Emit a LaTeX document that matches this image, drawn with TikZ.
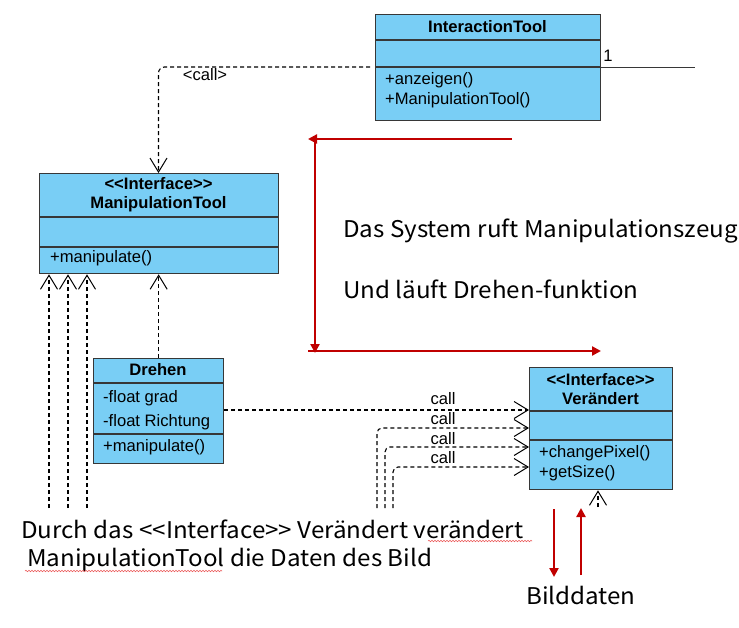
\documentclass[tikz,border=0pt]{standalone}
\usepackage{fontspec}
\setmainfont{Liberation Sans}
\newfontfamily\annfont[FakeStretch=1.05]{Noto Sans CJK SC}
\usetikzlibrary{arrows.meta,decorations.pathmorphing,calc}
\definecolor{umlblue}{RGB}{121,206,245}
\definecolor{umlborder}{RGB}{55,55,55}
\definecolor{redarr}{RGB}{192,0,0}
\definecolor{spellred}{RGB}{235,90,90}
\begin{document}
\begin{tikzpicture}[x=1pt,y=-1pt,
  umlbox/.style={draw=umlborder, fill=umlblue, line width=1.3pt, inner sep=0pt, anchor=north west},
  sepline/.style={draw=umlborder, line width=1.3pt},
  ctitle/.style={font=\fontsize{16.6}{19}\selectfont\bfseries, inner sep=0pt, align=center},
  member/.style={font=\fontsize{16.6}{19}\selectfont, inner sep=0pt, anchor=west},
  lbl/.style={font=\fontsize{16.6}{19}\selectfont, inner sep=0pt},
  dep/.style={draw=black, line width=1.1pt, dash pattern=on 4pt off 3pt},
  openhead/.style={-{Straight Barb[length=14pt,width=17pt,line width=1pt]}},
  redline/.style={draw=redarr, line width=2.8pt},
  redhead/.style={-{Triangle[length=9pt,width=9pt]}},
  ann/.style={font=\annfont\fontsize{23}{27}\selectfont, inner sep=0pt, anchor=base west},
  spell/.style={draw=spellred, line width=0.6pt, decorate, decoration={snake, segment length=3pt, amplitude=0.7pt}}
]
\useasboundingbox (0,0) rectangle (739,627);

% InteractionTool
\node[umlbox, minimum width=225pt, minimum height=106pt] (it) at (375,14) {};
\draw[sepline] ($(it.north west)+(0,26)$) -- ($(it.north east)+(0,26)$);
\draw[sepline] ($(it.north west)+(0,53)$) -- ($(it.north east)+(0,53)$);
\node[ctitle] (itT) at (487.5,27) {InteractionTool};
\node[member] (it1) at (385,80) {+anzeigen()};
\node[member] (it2) at (385,100) {+ManipulationTool()};

% ManipulationTool
\node[umlbox, minimum width=239pt, minimum height=100pt] (mt) at (39,173) {};
\draw[sepline] ($(mt.north west)+(0,44)$) -- ($(mt.north east)+(0,44)$);
\draw[sepline] ($(mt.north west)+(0,74)$) -- ($(mt.north east)+(0,74)$);
\node[ctitle] (mtT) at (158.5,195) {{<}{<}Interface{>}{>}\\ManipulationTool};
\node[member] (mt1) at (50,258) {+manipulate()};

% Drehen
\node[umlbox, minimum width=130pt, minimum height=105pt] (dr) at (93,358) {};
\draw[sepline] ($(dr.north west)+(0,25)$) -- ($(dr.north east)+(0,25)$);
\draw[sepline] ($(dr.north west)+(0,76)$) -- ($(dr.north east)+(0,76)$);
\node[ctitle] (drT) at (158,370) {Drehen};
\node[member] (dr1) at (103,398) {-float grad};
\node[member] (dr2) at (103,422) {-float Richtung};
\node[member] (dr3) at (103,447) {+manipulate()};

% Veraendert
\node[umlbox, minimum width=143pt, minimum height=122pt] (ve) at (529,367) {};
\draw[sepline] ($(ve.north west)+(0,44)$) -- ($(ve.north east)+(0,44)$);
\draw[sepline] ($(ve.north west)+(0,73)$) -- ($(ve.north east)+(0,73)$);
\node[ctitle] (veT) at (600.5,389) {{<}{<}Interface{>}{>}\\Verändert};
\node[member] (ve1) at (539,453) {+changePixel()};
\node[member] (ve2) at (539,473) {+getSize()};

% association "1"
\coordinate (assocEnd) at (695,67);
\draw[draw=umlborder, line width=1pt] ($(it.north east)+(0,53)$) -- (assocEnd);
\node[lbl] (one) at (608,56) {1};

% <call> from InteractionTool to ManipulationTool
\draw[dep, openhead, rounded corners=6pt] ($(it.north west)+(-5,53)$) -| ($(mt.north west)+(119.5,0)$);
\node[lbl] (callTop) at (205,75) {{<}call{>}};

% realisations into ManipulationTool
\coordinate (b1) at (49,508);
\coordinate (b2) at (68,508);
\coordinate (b3) at (87,508);
\draw[dep, openhead] (b1) -- (mt.south -| b1);
\draw[dep, openhead] (b2) -- (mt.south -| b2);
\draw[dep, openhead] (b3) -- (mt.south -| b3);
\draw[dep, openhead] (dr.north) -- (mt.south -| dr.north);

% calls into Veraendert
\draw[dep, openhead] ($(dr.north east)+(0,52)$) -- ($(ve.north west)+(0,43)$);
\coordinate (c1) at (377,508);
\coordinate (c2) at (385,508);
\coordinate (c3) at (393,508);
\draw[dep, openhead, rounded corners=5pt] (c1) |- ($(ve.north west)+(0,61)$);
\draw[dep, openhead, rounded corners=5pt] (c2) |- ($(ve.north west)+(0,80)$);
\draw[dep, openhead, rounded corners=5pt] (c3) |- ($(ve.north west)+(0,100)$);
\node[lbl] (call1) at (443,399) {call};
\node[lbl] (call2) at (443,419) {call};
\node[lbl] (call3) at (443,439) {call};
\node[lbl] (call4) at (443,458) {call};
\coordinate (vb) at (598,507);
\draw[dep, openhead] (vb) -- (ve.south -| vb);

% red flow arrows
\coordinate (r1) at (512,139);
\coordinate (r2) at (308,139);
\coordinate (r3) at (315,139);
\coordinate (r4) at (315,353);
\coordinate (r5) at (308,351);
\coordinate (r6) at (601,351);
\draw[redline, redhead] (r1) -- (r2);
\draw[redline, redhead] (r3) -- (r4);
\draw[redline, redhead] (r5) -- (r6);

\node[ann] (txt1) at (343,237) {Das System ruft Manipulationszeug};
\node[ann] (txt2) at (343,298) {Und läuft Drehen-funktion};

\node[ann] (txt3) at (21,538) {Durch das <<Interface>> Verändert verändert};
\node[ann] (txt4) at (27,566) {ManipulationTool die Daten des Bild};
\node[ann] (txt5) at (526,604) {Bilddaten};

\coordinate (d1) at (554,509);
\coordinate (d2) at (554,577);
\coordinate (u1) at (581,575);
\coordinate (u2) at (581,508);
\draw[redline, redhead] (d1) -- (d2);
\draw[redline, redhead] (u1) -- (u2);

% spell-check underlines
\draw[spell] (428,541) -- (532,541);
\draw[spell] (25,571) -- (222,571);
\end{tikzpicture}
\end{document}
